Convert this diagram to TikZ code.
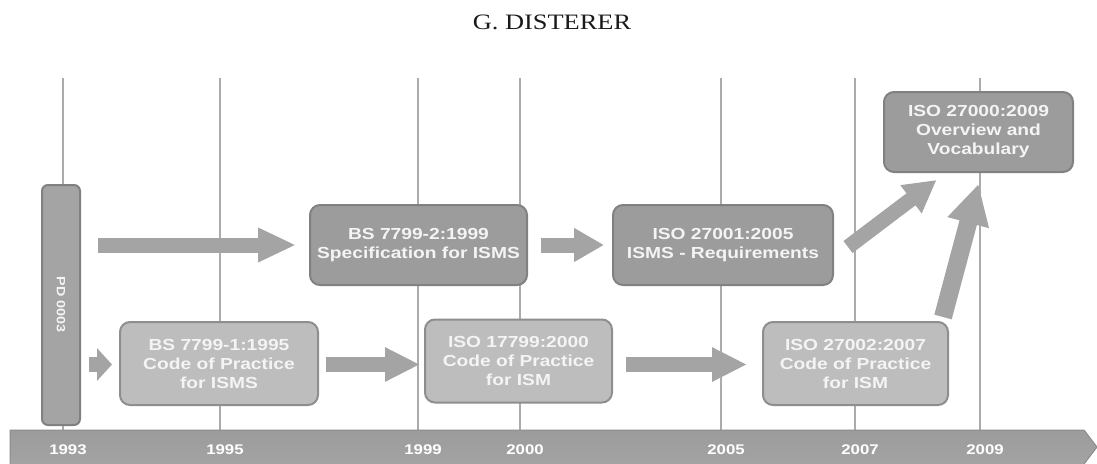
\documentclass[tikz,border=0pt]{standalone}
\usepackage{fontspec}
\setmainfont{Liberation Serif}[FakeStretch=1.2]
\newfontfamily\boxfont{Liberation Sans}[FakeStretch=1.2]
\usepackage{xcolor}
\usetikzlibrary{arrows.meta, positioning, calc}

\definecolor{gridgray}{HTML}{ABABAB}
\definecolor{topfill}{HTML}{9C9C9C}
\definecolor{topline}{HTML}{818181}
\definecolor{botfill}{HTML}{BDBDBD}
\definecolor{botline}{HTML}{8E8E8E}
\definecolor{arrowgray}{HTML}{A4A4A4}
\definecolor{boxtext}{HTML}{F4F4F4}
\definecolor{titlecol}{HTML}{1A1A1A}

\begin{document}
\begin{tikzpicture}[x=1pt, y=-1pt,
    yearline/.style={draw=gridgray, line width=2pt},
    topbox/.style={rectangle, rounded corners=10pt, draw=topline, line width=2pt,
      fill=topfill, text=boxtext, align=center, minimum height=80pt, inner sep=2pt,
      font=\boxfont\bfseries\fontsize{16}{19}\selectfont},
    botbox/.style={topbox, draw=botline, fill=botfill, minimum height=83pt},
    block/.style={draw=arrowgray, line width=15pt, -{Triangle[width=32pt, length=38pt]}},
    yearlabel/.style={text=white, font=\boxfont\bfseries\fontsize{14}{14}\selectfont}
]
\useasboundingbox (0,0) rectangle (1097,463);

% title
\node[font=\fontsize{22}{22}\selectfont, text=titlecol] (title) at (552,22) {G. DISTERER};

% year grid
\foreach \x/\yr in {63/1993, 220/1995, 418/1999, 520/2000, 721/2005, 855/2007, 980/2009}
  \draw[yearline] (\x,78) -- (\x,432);

% time axis
\shade[top color=gray!78, middle color=gray!48, bottom color=gray!72]
  (10,430) -- (1084,430) -- (1097,447) -- (1084,464) -- (10,464) -- cycle;
\draw[draw=gray!90, line width=1pt]
  (10,464) -- (10,430) -- (1084,430) -- (1097,447) -- (1084,464);
\foreach \x/\yr in {63/1993, 220/1995, 418/1999, 520/2000, 721/2005, 855/2007, 980/2009}
  \node[yearlabel] (y\yr) at (\x+5,450) {\yr};

% standards
\node[rectangle, rounded corners=6pt, draw=topline, line width=2pt, fill=arrowgray,
  minimum width=38pt, minimum height=240pt, inner sep=0pt, text=boxtext,
  font=\boxfont\bfseries\fontsize{12}{12}\selectfont] (pd) at (61,305)
  {\rotatebox{-90}{PD 0003}};

\node[topbox, minimum width=217pt] (bs2)  at (418.5,245) {BS 7799-2:1999\\Specification for ISMS};
\node[topbox, minimum width=220pt] (iso1) at (723,245)   {ISO 27001:2005\\ISMS - Requirements};
\node[topbox, minimum width=189pt] (iso0) at (978.5,132) {ISO 27000:2009\\Overview and\\Vocabulary};

\node[botbox, minimum width=198pt] (bs1)   at (219,363.5)   {BS 7799-1:1995\\Code of Practice\\for ISMS};
\node[botbox, minimum width=187pt] (iso17) at (518.5,361)   {ISO 17799:2000\\Code of Practice\\for ISM};
\node[botbox, minimum width=185pt] (iso2)  at (855.5,363.5) {ISO 27002:2007\\Code of Practice\\for ISM};

% succession
\draw[block] ($(pd.east |- bs2.west)+(17,0)$) -- ($(bs2.west)+(-13,0)$);
\draw[block, -{Triangle[width=32pt, length=15pt]}]
  ($(pd.east |- bs1.west)+(8,1)$) -- ($(bs1.west)+(-7,1)$);
\draw[block, -{Triangle[width=32pt, length=35pt]}]
  ($(bs1.east)+(7,1)$) -- ($(iso17.west |- bs1.east)+(-4,1)$);
\draw[block, -{Triangle[width=32pt, length=35pt]}]
  ($(iso17.east |- bs1.east)+(13,1)$) -- ($(iso2.west)+(-15,1)$);
\draw[block, -{Triangle[width=32pt, length=30pt]}]
  ($(bs2.east)+(13,0)$) -- ($(iso1.west)+(-8,0)$);
\draw[block, -{Triangle[width=33pt, length=32pt]}]
  ($(iso1.east)+(14,2)$) -- ($(iso0.south)+(-42,7)$);
\draw[block, line width=18pt, -{Triangle[width=40pt, length=40pt]}]
  ($(iso2.north east)+(-6,-4)$) -- ($(iso0.south)+(0,11)$);
\end{tikzpicture}
\end{document}
